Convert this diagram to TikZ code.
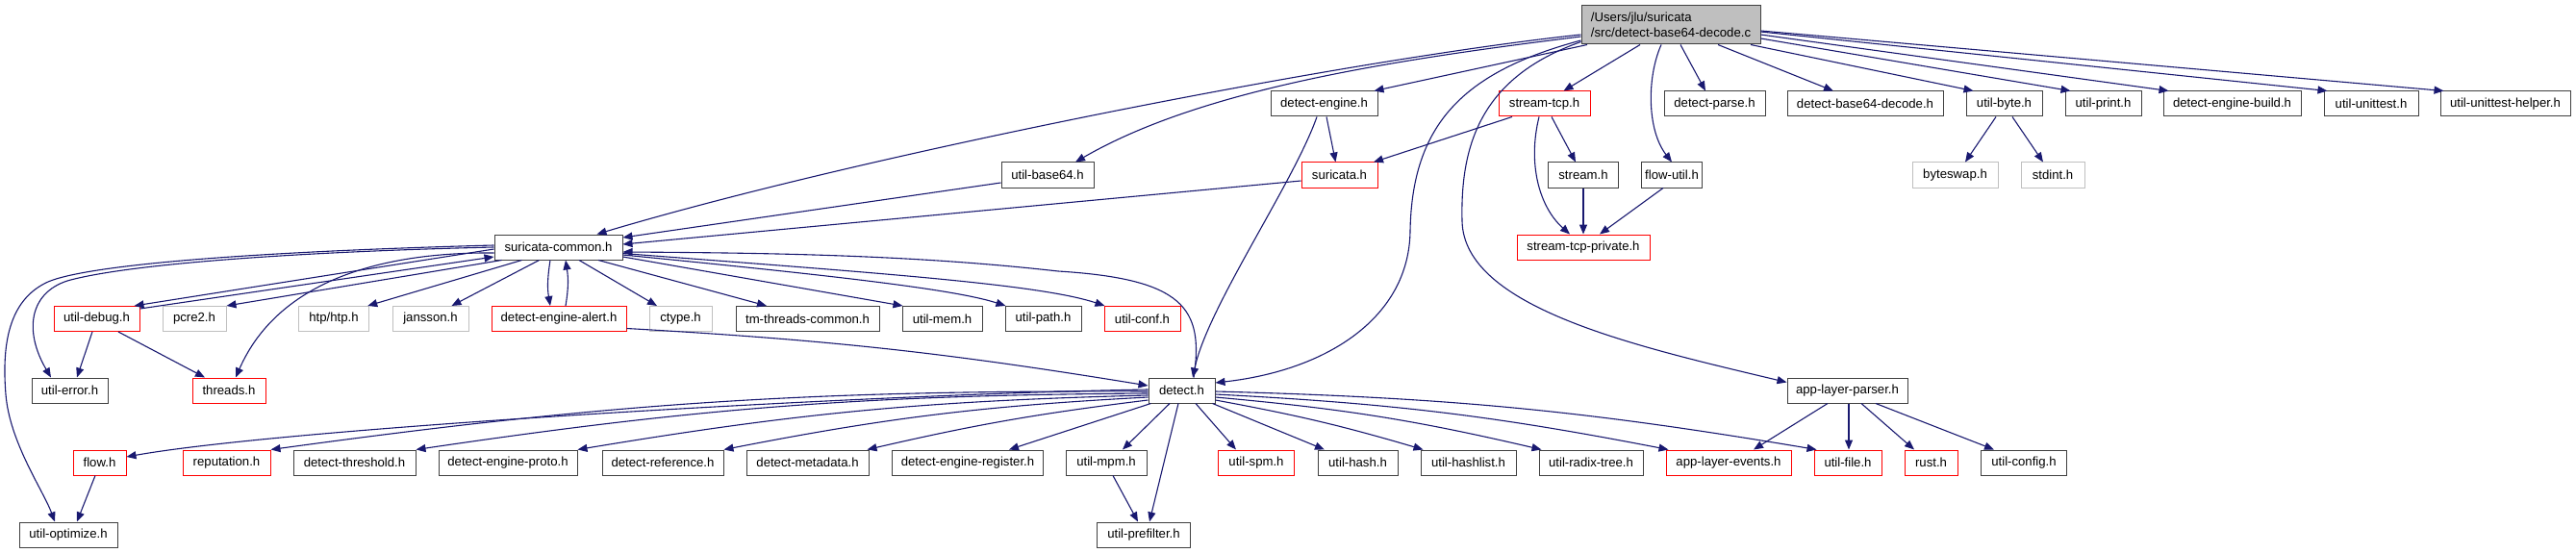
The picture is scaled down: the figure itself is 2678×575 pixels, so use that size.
\documentclass[tikz,border=0pt]{standalone}
\usepackage{fontspec}
\setmainfont{Liberation Sans}
\usetikzlibrary{arrows.meta}
\definecolor{edgec}{HTML}{191970}
\definecolor{boxc}{HTML}{404040}
\definecolor{grayc}{HTML}{BFBFBF}
\definecolor{redc}{HTML}{FF0000}
\begin{document}
\begin{tikzpicture}[x=1pt,y=-1pt,
  nb/.style={draw=boxc, line width=1pt, inner sep=0pt, minimum height=26pt, font=\fontsize{13.17}{15.5}\selectfont},
  rb/.style={nb, draw=redc},
  gb/.style={nb, draw=grayc},
  e/.style={draw=edgec, line width=1.1pt, -{Triangle[length=10pt,width=8pt]}}]
\useasboundingbox (0,0) rectangle (2678,575);
\fill[white] (0,0) rectangle (2678,575);
% row 0
\node[nb, fill=grayc, minimum width=186pt, minimum height=40pt, align=left] (M) at (1737,26) {/Users/jlu/suricata\\/src/detect-base64-decode.c};
% row 1
\node[nb, minimum width=111pt] (dengine) at (1376.5,108) {detect-engine.h};
\node[rb, minimum width=95pt] (stcp) at (1605.5,108) {stream-tcp.h};
\node[nb, minimum width=105pt] (dparse) at (1782.5,108) {detect-parse.h};
\node[nb, minimum width=162pt] (db64) at (1939,108) {detect-base64-decode.h};
\node[nb, minimum width=79pt] (ubyte) at (2083.5,108) {util-byte.h};
\node[nb, minimum width=79pt] (uprint) at (2186.5,108) {util-print.h};
\node[nb, minimum width=143pt] (debuild) at (2320.5,108) {detect-engine-build.h};
\node[nb, minimum width=98pt] (uunit) at (2465,108) {util-unittest.h};
\node[nb, minimum width=135pt] (uunith) at (2604.5,108) {util-unittest-helper.h};
% row 2
\node[nb, minimum width=96pt] (ub64) at (1089,182) {util-base64.h};
\node[rb, minimum width=79pt] (suricata) at (1392.5,182) {suricata.h};
\node[nb, minimum width=72.5pt] (stream) at (1646,182) {stream.h};
\node[nb, minimum width=63.5pt] (flowutil) at (1738,182) {flow-util.h};
\node[gb, minimum width=89pt] (byteswap) at (2032.5,182) {byteswap.h};
\node[gb, minimum width=66pt] (stdint) at (2134,182) {stdint.h};
% row 3
\node[nb, minimum width=133pt] (scommon) at (580.5,257) {suricata-common.h};
\node[rb, minimum width=138pt] (stcpp) at (1646,257) {stream-tcp-private.h};
% row 4
\node[rb, minimum width=89pt] (udebug) at (100.5,331.5) {util-debug.h};
\node[gb, minimum width=66pt] (pcre2) at (202,331.5) {pcre2.h};
\node[gb, minimum width=73.5pt] (htp) at (347,331.5) {htp/htp.h};
\node[gb, minimum width=79pt] (jansson) at (447.5,331.5) {jansson.h};
\node[rb, minimum width=140pt] (dealert) at (581,331.5) {detect-engine-alert.h};
\node[gb, minimum width=65pt] (ctype) at (707.5,331.5) {ctype.h};
\node[nb, minimum width=149pt] (tmthreads) at (839.5,331.5) {tm-threads-common.h};
\node[nb, minimum width=83pt] (umem) at (979.5,331.5) {util-mem.h};
\node[nb, minimum width=79pt] (upath) at (1084.5,331.5) {util-path.h};
\node[rb, minimum width=79pt] (uconf) at (1187.5,331.5) {util-conf.h};
% row 5
\node[nb, minimum width=79pt] (uerror) at (72.5,406) {util-error.h};
\node[rb, minimum width=76pt] (threads) at (238,406) {threads.h};
\node[nb, minimum width=69pt] (detect) at (1228.5,406) {detect.h};
\node[nb, minimum width=125pt] (alparser) at (1920.5,406) {app-layer-parser.h};
% row 6
\node[rb, minimum width=55pt] (flow) at (103.5,481) {flow.h};
\node[rb, minimum width=91pt] (reputation) at (235.5,481) {reputation.h};
\node[nb, minimum width=127pt] (dthreshold) at (368.5,481) {detect-threshold.h};
\node[nb, minimum width=144pt] (deproto) at (528,481) {detect-engine-proto.h};
\node[nb, minimum width=126pt] (dreference) at (689,481) {detect-reference.h};
\node[nb, minimum width=127pt] (dmetadata) at (839.5,481) {detect-metadata.h};
\node[nb, minimum width=157.5pt] (deregister) at (1006,481) {detect-engine-register.h};
\node[nb, minimum width=84pt] (umpm) at (1150,481) {util-mpm.h};
\node[rb, minimum width=78.5pt] (uspm) at (1306,481) {util-spm.h};
\node[nb, minimum width=83pt] (uhash) at (1411.5,481) {util-hash.h};
\node[nb, minimum width=99pt] (uhashlist) at (1526.5,481) {util-hashlist.h};
\node[nb, minimum width=108pt] (uradix) at (1654,481) {util-radix-tree.h};
\node[rb, minimum width=130pt] (alevents) at (1797,481) {app-layer-events.h};
\node[rb, minimum width=70pt] (ufile) at (1921,481) {util-file.h};
\node[rb, minimum width=55pt] (rust) at (2007.5,481) {rust.h};
\node[nb, minimum width=88.5pt] (uconfig) at (2104,481) {util-config.h};
% row 7
\node[nb, minimum width=102pt] (uopt) at (71,556) {util-optimize.h};
\node[nb, minimum width=96.5pt] (uprefilter) at (1189,556) {util-prefilter.h};

% edges from main
\draw[e] ([xshift=-87pt]M.south) -- ([xshift=52pt]dengine.north);
\draw[e] ([xshift=-32pt]M.south) -- ([xshift=20pt]stcp.north);
\draw[e] ([xshift=-10pt]M.south) .. controls (1712,80) and (1712,135) .. (flowutil.north);
\draw[e] ([xshift=10pt]M.south) -- ([xshift=-9.5pt]dparse.north);
\draw[e] ([xshift=49pt]M.south) -- ([xshift=-33pt]db64.north);
\draw[e] ([xshift=83pt]M.south) -- ([xshift=8pt]ubyte.north west);
\draw[e] ([yshift=-14pt]M.east) -- ([xshift=6pt]uprint.north west);
\draw[e] ([yshift=-10pt]M.east) -- ([xshift=6pt]debuild.north west);
\draw[e] ([yshift=-7pt]M.east) -- ([xshift=4pt]uunit.north west);
\draw[e] ([yshift=-6pt]M.east) -- ([xshift=4pt]uunith.north west);
\draw[e] ([yshift=-10pt]M.west) .. controls (1400,62) and (900,160) .. ([xshift=40pt]scommon.north);
\draw[e] ([yshift=-12pt]M.west) .. controls (1450,62) and (1250,92) .. ([xshift=29pt]ub64.north);
\draw[e] ([yshift=-16pt]M.west) .. controls (1520,75) and (1468,130) .. (1466,240) .. controls (1465,330) and (1380,385) .. ([yshift=8pt]detect.east);
\draw[e] ([yshift=-17.5pt]M.west) .. controls (1540,80) and (1518,150) .. (1520,230) .. controls (1522,320) and (1700,360) .. ([yshift=8.5pt]alparser.west);
% row 1 -> row 2
\draw[e] ([xshift=2.5pt]dengine.south) -- ([xshift=-4pt]suricata.north);
\draw[e] ([xshift=-7.5pt]dengine.south) .. controls (1345,190) and (1255,320) .. ([xshift=11.5pt]detect.north);
\draw[e] ([xshift=-33.5pt]stcp.south) -- ([xshift=35.5pt]suricata.north);
\draw[e] ([xshift=7.5pt]stcp.south) -- ([xshift=-8pt]stream.north);
\draw[e] ([xshift=-5.5pt]stcp.south) .. controls (1588,170) and (1600,215) .. ([xshift=-14pt]stcpp.north);
\draw[e] (stream) -- (stcpp);
\draw[e] ([xshift=-9pt]flowutil.south) -- ([xshift=17pt]stcpp.north);
\draw[e] ([yshift=-8pt]ub64.west) -- ([yshift=10pt]scommon.east);
\draw[e] ([yshift=-6pt]suricata.west) -- ([yshift=3pt]scommon.east);
\draw[e] ([xshift=-8.5pt]ubyte.south) -- ([xshift=10.5pt]byteswap.north);
\draw[e] ([xshift=8.5pt]ubyte.south) -- ([xshift=-10pt]stdint.north);
% suricata-common
\draw[e] ([yshift=-2pt]scommon.west) -- ([xshift=-6pt]udebug.north east);
\draw[e] ([yshift=-3pt]udebug.north east) -- ([yshift=-10pt]scommon.west);
\draw[e] ([xshift=8pt]scommon.south west) -- (pcre2.north east);
\draw[e] ([xshift=-38pt]scommon.south) -- ([xshift=-2pt]htp.north east);
\draw[e] ([xshift=-20pt]scommon.south) -- ([xshift=22pt]jansson.north);
\draw[e] ([xshift=-8.5pt]scommon.south) .. controls (569,290) and (569,300) .. ([xshift=-9pt]dealert.north);
\draw[e] ([xshift=7pt]dealert.north) .. controls (591,300) and (591,290) .. ([xshift=7.5pt]scommon.south);
\draw[e] ([xshift=21.5pt]scommon.south) -- ([xshift=-24.5pt]ctype.north);
\draw[e] ([xshift=41.5pt]scommon.south) -- ([xshift=-42.5pt]tmthreads.north);
\draw[e] ([yshift=-10pt]scommon.east) -- ([xshift=1pt]umem.north west);
\draw[e] ([yshift=-8pt]scommon.east) .. controls (850,285) and (990,300) .. ([xshift=1pt]upath.north west);
\draw[e] ([yshift=-6.5pt]scommon.east) .. controls (900,283) and (1080,295) .. ([xshift=1pt]uconf.north west);
\draw[e] ([xshift=12.5pt]detect.north) .. controls (1252,320) and (1230,290) .. (1100,282) .. controls (950,265) and (800,263) .. ([yshift=-5pt]scommon.east);
\draw[e] ([yshift=-6pt]scommon.west) .. controls (400,262) and (290,290) .. ([xshift=7pt]threads.north);
\draw[e] (scommon.west) .. controls (300,262) and (130,275) .. (70,292) .. controls (30,305) and (25,345) .. ([xshift=-19.5pt]uerror.north);
\draw[e] ([yshift=2pt]scommon.west) .. controls (250,262) and (90,276) .. (50,293) .. controls (8,312) and (2,360) .. (6,410) .. controls (10,460) and (45,510) .. ([xshift=-14pt]uopt.north);
\draw[e] ([xshift=-4.5pt]udebug.south) -- ([xshift=7.5pt]uerror.north);
\draw[e] ([xshift=22.5pt]udebug.south) -- ([xshift=-25pt]threads.north);
\draw[e] ([yshift=-10pt]dealert.east) to[bend left=3] ([yshift=5pt]detect.west);
% detect.h
\draw[e] ([yshift=1pt]detect.west) .. controls (900,410) and (300,445) .. ([yshift=6pt]flow.east);
\draw[e] ([yshift=-1pt]detect.west) to[bend right=4] (reputation.north east);
\draw[e] ([yshift=-3pt]detect.west) to[bend right=4] (dthreshold.north east);
\draw[e] ([yshift=-5pt]detect.west) to[bend right=4] (deproto.north east);
\draw[e] ([yshift=-7pt]detect.west) to[bend right=4] (dreference.north east);
\draw[e] ([yshift=-10pt]detect.west) to[bend right=3] ([xshift=-2pt]dmetadata.north east);
\draw[e] ([xshift=3pt]detect.south west) -- ([xshift=43pt]deregister.north);
\draw[e] ([xshift=-12.5pt]detect.south) -- ([xshift=17pt]umpm.north);
\draw[e] ([xshift=-3.5pt]detect.south) -- ([xshift=6pt]uprefilter.north);
\draw[e] ([xshift=7pt]umpm.south) -- ([xshift=-6pt]uprefilter.north);
\draw[e] ([xshift=14.5pt]detect.south) -- ([xshift=-21pt]uspm.north);
\draw[e] ([xshift=-3pt]detect.south east) -- ([xshift=-34.5pt]uhash.north);
\draw[e] ([yshift=-10pt]detect.east) to[bend left=3] ([xshift=3pt]uhashlist.north west);
\draw[e] ([yshift=-7pt]detect.east) to[bend left=4] ([xshift=3pt]uradix.north west);
\draw[e] ([yshift=-4pt]detect.east) to[bend left=4] ([xshift=3pt]alevents.north west);
\draw[e] ([yshift=-1pt]detect.east) to[bend left=4] ([xshift=3pt]ufile.north west);
% app-layer-parser
\draw[e] ([xshift=-20.5pt]alparser.south) -- ([xshift=26pt]alevents.north);
\draw[e] ([xshift=1.5pt]alparser.south) -- ([xshift=1pt]ufile.north);
\draw[e] ([xshift=14.5pt]alparser.south) -- ([xshift=-17.5pt]rust.north);
\draw[e] ([xshift=29.5pt]alparser.south) -- ([xshift=-31pt]uconfig.north);
\draw[e] ([xshift=-4.5pt]flow.south) -- ([xshift=9pt]uopt.north);
\end{tikzpicture}
\end{document}
